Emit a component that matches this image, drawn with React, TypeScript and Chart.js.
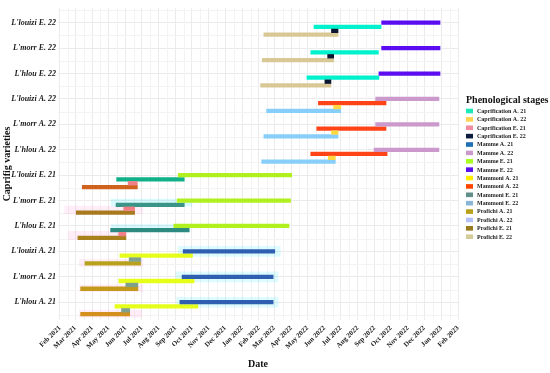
import React, { useEffect, useRef } from "react";
import { Chart, registerables } from "chart.js";

Chart.register(...registerables);

const SERIF = "'Liberation Serif', 'Times New Roman', Times, serif";

// Rows, bottom to top
const varieties = [
  "L'hlou A. 21", "L'morr A. 21", "L'louizi A. 21",
  "L'hlou E. 21", "L'morr E. 21", "L'louizi E. 21",
  "L'hlou A. 22", "L'morr A. 22", "L'louizi A. 22",
  "L'hlou E. 22", "L'morr E. 22", "L'louizi E. 22",
];

const monthNames = ["Jan", "Feb", "Mar", "Apr", "May", "Jun", "Jul", "Aug", "Sep", "Oct", "Nov", "Dec"];
const monthTickDates = [
  "2021-02-01", "2021-03-01", "2021-04-01", "2021-05-01", "2021-06-01", "2021-07-01",
  "2021-08-01", "2021-09-01", "2021-10-01", "2021-11-01", "2021-12-01", "2022-01-01",
  "2022-02-01", "2022-03-01", "2022-04-01", "2022-05-01", "2022-06-01", "2022-07-01",
  "2022-08-01", "2022-09-01", "2022-10-01", "2022-11-01", "2022-12-01", "2023-01-01",
  "2023-02-01",
];

const stageNames = [
  "Caprification A. 21", "Caprification A. 22", "Caprification E. 21", "Caprification E. 22",
  "Mamme A. 21", "Mamme A. 22", "Mamme E. 21", "Mamme E. 22",
  "Mammoni A. 21", "Mammoni A. 22", "Mammoni E. 21", "Mammoni E. 22",
  "Profichi A. 21", "Profichi A. 22", "Profichi E. 21", "Profichi E. 22",
];

// [start, end] for L'hlou, L'morr, L'louizi
const caprificationA21 = [["2021-05-25", "2021-06-09"], ["2021-06-02", "2021-06-24"], ["2021-06-08", "2021-06-29"]];
const caprificationA22 = [["2022-06-08", "2022-06-21"], ["2022-06-14", "2022-06-26"], ["2022-06-18", "2022-07-01"]];
const caprificationE21 = [["2021-05-20", "2021-06-02"], ["2021-05-29", "2021-06-18"], ["2021-06-06", "2021-06-23"]];
const caprificationE22 = [["2022-06-02", "2022-06-13"], ["2022-06-07", "2022-06-18"], ["2022-06-14", "2022-06-26"]];
const mammeA21 = [["2021-09-09", "2022-02-27"], ["2021-09-13", "2022-02-27"], ["2021-09-15", "2022-03-02"]];
const mammeA22 = [["2022-08-31", "2022-12-28"], ["2022-09-03", "2022-12-28"], ["2022-09-03", "2022-12-28"]];
const mammeE21 = [["2021-08-29", "2022-03-28"], ["2021-09-04", "2022-03-31"], ["2021-09-06", "2022-04-02"]];
const mammeE22 = [["2022-09-09", "2022-12-30"], ["2022-09-14", "2022-12-30"], ["2022-09-14", "2022-12-30"]];
const mammoniA21 = [["2021-05-13", "2021-10-12"], ["2021-05-20", "2021-10-05"], ["2021-05-22", "2021-10-02"]];
const mammoniA22 = [["2022-05-07", "2022-09-24"], ["2022-05-18", "2022-09-22"], ["2022-05-21", "2022-09-22"]];
const mammoniE21 = [["2021-05-05", "2021-09-26"], ["2021-05-15", "2021-09-17"], ["2021-05-16", "2021-09-17"]];
const mammoniE22 = [["2022-04-30", "2022-09-09"], ["2022-05-07", "2022-09-08"], ["2022-05-13", "2022-09-13"]];
const profichiA21 = [["2021-03-11", "2021-06-09"], ["2021-03-11", "2021-06-24"], ["2021-03-19", "2021-06-29"]];
const profichiA22 = [["2022-02-06", "2022-06-21"], ["2022-02-10", "2022-06-26"], ["2022-02-15", "2022-07-01"]];
const profichiE21 = [["2021-03-06", "2021-06-02"], ["2021-03-03", "2021-06-18"], ["2021-03-14", "2021-06-23"]];
const profichiE22 = [["2022-02-04", "2022-06-13"], ["2022-02-07", "2022-06-18"], ["2022-02-10", "2022-06-26"]];

const stageSeries = [
  caprificationA21, caprificationA22, caprificationE21, caprificationE22,
  mammeA21, mammeA22, mammeE21, mammeE22,
  mammoniA21, mammoniA22, mammoniE21, mammoniE22,
  profichiA21, profichiA22, profichiE21, profichiE22,
];

// faint highlight bands (L'hlou, L'morr, L'louizi)
const cyanBandA21 = [["2021-09-03", "2022-03-08"], ["2021-09-02", "2022-03-08"], ["2021-09-06", "2022-03-12"]];
const pinkBandA21 = [["2021-03-09", "2021-07-01"], ["2021-03-09", "2021-07-03"], ["2021-03-09", "2021-07-03"]];
const cyanBandE21 = [["2021-05-06", "2021-09-27"], ["2021-05-06", "2021-10-01"]];
const pinkBandE21 = [["2021-02-16", "2021-06-02"], ["2021-02-10", "2021-07-03"]];

const barColors = [
  ["#7fa08c", "#7fa08c", "#7fa08c"],
  ["#ffd740", "#ffd740", "#ffd740"],
  ["#f07f87", "#f07f87", "#f07f87"],
  ["#0b1630", "#0b1630", "#0b1630"],
  ["#2f5fb0", "#2f5fb0", "#2f5fb0"],
  ["#cc99cc", "#cc99cc", "#cc99cc"],
  ["#b0f01e", "#b0f01e", "#b0f01e"],
  ["#5b0cf0", "#5b0cf0", "#5b0cf0"],
  ["#e6ff1a", "#e6ff1a", "#e6ff1a"],
  ["#ff4517", "#ff4517", "#ff4517"],
  ["#2c8a80", "#3a9488", "#10b088"],
  ["#00f2cc", "#00f2cc", "#00f2cc"],
  ["#d4901c", "#c49a1a", "#b8a21c"],
  ["#87cefa", "#87cefa", "#87cefa"],
  ["#a8801c", "#a87a20", "#d0621e"],
  ["#d8c896", "#d8c896", "#d8c896"],
];

const legendColors = [
  "#1de9b6", "#ffd54f", "#f38ba0", "#0d1b3e",
  "#1f6fb4", "#cc99cc", "#aaff22", "#5b0cf0",
  "#ffee00", "#ff4500", "#5f8f88", "#89b6d6",
  "#b8a01a", "#b3c2ff", "#9a7a1e", "#d6cc9a",
];

const seasonBase: Record<string, number> = { "A. 21": 0, "E. 21": 3, "A. 22": 6, "E. 22": 9 };
const phaseOffset: Record<string, number> = { Mamme: 0, Mammoni: -0.165, Caprification: -0.32, Profichi: -0.47 };

function ts(d: string): number {
  const [y, m, dd] = d.split("-").map(Number);
  return Date.UTC(y, m - 1, dd);
}

const monthTicks = monthTickDates.map(ts);

function fmtMonth(v: number): string {
  const d = new Date(v);
  return monthNames[d.getUTCMonth()] + " " + d.getUTCFullYear();
}

const minorGridPlugin = {
  id: "minorGrid",
  beforeDatasetsDraw(chart: any) {
    const { ctx, chartArea, scales } = chart;
    const { left, right, top, bottom } = chartArea;
    const x = scales.x;
    const y = scales.y;
    ctx.save();
    ctx.strokeStyle = "#f3f3f3";
    ctx.lineWidth = 1;
    ctx.beginPath();
    for (let i = 0; i < monthTicks.length - 1; i++) {
      const px = Math.round(x.getPixelForValue((monthTicks[i] + monthTicks[i + 1]) / 2)) + 0.5;
      if (px < left || px > right) continue;
      ctx.moveTo(px, top);
      ctx.lineTo(px, bottom);
    }
    for (let k = -0.5; k <= varieties.length - 0.5; k += 1) {
      const py = Math.round(y.getPixelForValue(k)) + 0.5;
      if (py < top || py > bottom) continue;
      ctx.moveTo(left, py);
      ctx.lineTo(right, py);
    }
    ctx.stroke();
    ctx.restore();
  },
};

const legendPlugin = {
  id: "stageLegend",
  afterDraw(chart: any) {
    const { ctx, chartArea } = chart;
    const lx = chartArea.right + 8;
    ctx.save();
    ctx.textAlign = "left";
    ctx.textBaseline = "middle";
    ctx.fillStyle = "#111";
    ctx.font = `bold 10px ${SERIF}`;
    ctx.fillText("Phenological stages", lx, 100.5);
    ctx.font = `bold 6px ${SERIF}`;
    stageNames.forEach((name, i) => {
      const cy = 111 + i * 8.38;
      ctx.fillStyle = legendColors[i];
      ctx.fillRect(lx, cy - 2.3, 7, 4.6);
      ctx.fillStyle = "#222";
      ctx.fillText(name, lx + 11, cy + 0.3);
    });
    ctx.restore();
  },
};

function bandData(rows: string[][], base: number, offset: number) {
  return rows.map((r, k) => ({ x: [ts(r[0]), ts(r[1])], y: base + k + offset }));
}

export default function App() {
  const canvasRef = useRef<HTMLCanvasElement | null>(null);

  useEffect(() => {
    document.body.style.margin = "0";
    const canvas = canvasRef.current;
    if (!canvas) return;

    const stageDatasets = stageNames.map((name, i) => {
      const phase = name.split(" ")[0];
      const season = name.slice(phase.length + 1);
      return {
        label: name,
        data: stageSeries[i].map((r, k) => ({
          x: [ts(r[0]), ts(r[1])],
          y: seasonBase[season] + k + phaseOffset[phase],
        })),
        backgroundColor: barColors[i],
        borderWidth: 0,
        barThickness: 3.6,
        grouped: false,
        order: 1,
      };
    });

    const bandDatasets = [
      { label: "", data: bandData(cyanBandA21, 0, 0.0), backgroundColor: "rgba(0,225,255,0.13)", barThickness: 10, grouped: false, order: 5, borderWidth: 0 },
      { label: "", data: bandData(pinkBandA21, 0, -0.45), backgroundColor: "rgba(255,110,200,0.12)", barThickness: 7, grouped: false, order: 5, borderWidth: 0 },
      { label: "", data: bandData(cyanBandE21, 3, -0.08), backgroundColor: "rgba(0,225,255,0.15)", barThickness: 7, grouped: false, order: 5, borderWidth: 0 },
      { label: "", data: bandData(pinkBandE21, 3, -0.37), backgroundColor: "rgba(255,110,200,0.12)", barThickness: 8, grouped: false, order: 5, borderWidth: 0 },
    ];

    const chart = new Chart(canvas, {
      type: "bar",
      data: { datasets: [...bandDatasets, ...stageDatasets] as any },
      plugins: [minorGridPlugin, legendPlugin],
      options: {
        indexAxis: "y",
        responsive: false,
        animation: false,
        layout: { padding: { top: 8, right: 92, left: 0, bottom: 0 } },
        plugins: {
          legend: { display: false },
          tooltip: { enabled: false },
        },
        scales: {
          x: {
            type: "linear",
            position: "bottom",
            min: Date.UTC(2021, 0, 28, 12),
            max: ts("2023-02-01"),
            beginAtZero: false,
            grid: { color: "#ebebeb", drawTicks: false, lineWidth: 1 },
            border: { display: false },
            afterBuildTicks: (s: any) => {
              s.ticks = monthTicks.map((v) => ({ value: v }));
            },
            ticks: {
              autoSkip: false,
              minRotation: 45,
              maxRotation: 45,
              padding: 4,
              color: "#222",
              font: { family: SERIF, size: 7, weight: "bold" },
              callback: (v: any) => fmtMonth(Number(v)),
            },
            title: {
              display: true,
              text: "Date",
              color: "#111",
              font: { family: SERIF, size: 10, weight: "bold" },
              padding: { top: 0, bottom: 3 },
            },
            afterFit: (s: any) => {
              s.height = 53;
            },
          },
          y: {
            type: "linear",
            min: -0.7,
            max: 11.58,
            offset: false,
            beginAtZero: false,
            grid: { color: "#ebebeb", drawTicks: false, offset: false },
            border: { display: false },
            afterBuildTicks: (s: any) => {
              s.ticks = varieties.map((_, i) => ({ value: i }));
            },
            ticks: {
              autoSkip: false,
              padding: 2,
              color: "#1a1a1a",
              font: { family: SERIF, size: 8, weight: "bold", style: "italic" },
              callback: (v: any) => varieties[Math.round(Number(v))] ?? "",
            },
            title: {
              display: true,
              text: "Caprifig varieties",
              color: "#111",
              font: { family: SERIF, size: 10, weight: "bold" },
              padding: { top: 1, bottom: 0 },
            },
            afterFit: (s: any) => {
              s.width = 58;
            },
          },
        },
      } as any,
    });

    return () => {
      chart.destroy();
    };
  }, []);

  return (
    <div style={{ width: 550, height: 373, background: "#fff" }}>
      <canvas ref={canvasRef} width={550} height={373} style={{ display: "block" }} />
    </div>
  );
}
